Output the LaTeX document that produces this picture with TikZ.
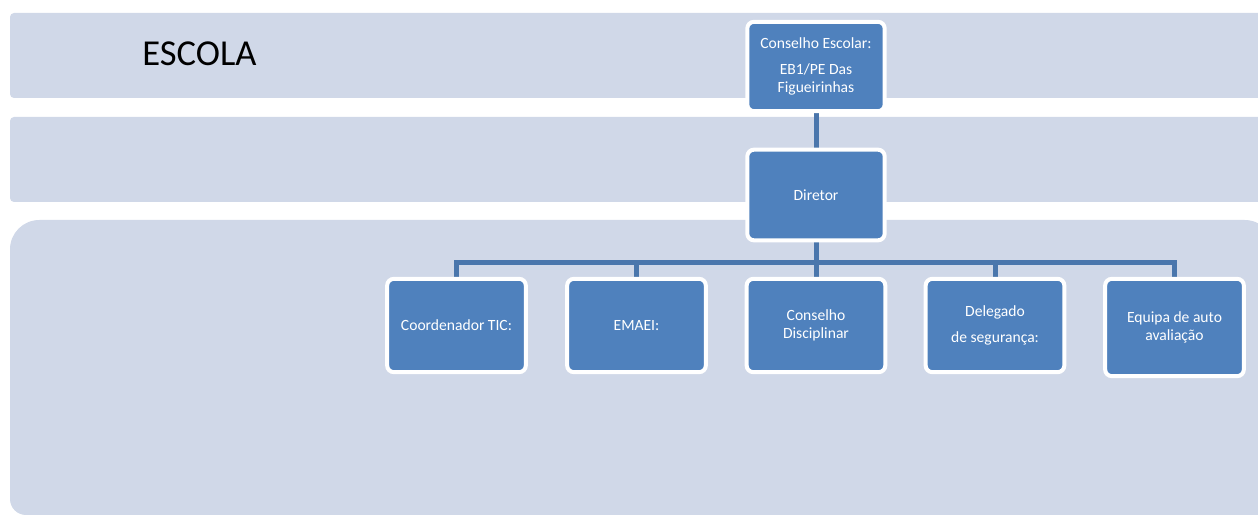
\documentclass[tikz,border=0pt]{standalone}
\usepackage{fontspec}
\setmainfont{Carlito}
\definecolor{band}{HTML}{D0D8E8}
\definecolor{boxblue}{HTML}{4F81BD}
\definecolor{conn}{HTML}{4A76AC}
\pgfdeclarelayer{back}
\pgfdeclarelayer{mid}
\pgfsetlayers{back,mid,main}
\tikzset{
  orgbox/.style={rectangle, rounded corners=5pt, fill=boxblue, draw=white,
    line width=3pt, text=white, align=center, inner sep=2pt,
    minimum width=104pt, minimum height=70pt,
    font=\fontsize{11.7}{13.4}\selectfont},
  conline/.style={draw=conn, line width=3.75pt}
}
\begin{document}
\begin{tikzpicture}[x=0.75pt,y=-0.75pt]
\useasboundingbox (0,0) rectangle (1258,516);
\clip (0,0) rectangle (1258,516);
\begin{pgfonlayer}{back}
\fill[band, rounded corners=3pt] (10,13) rectangle (1280,98);
\fill[band, rounded corners=3pt] (10,117) rectangle (1280,202);
\fill[band, rounded corners=22pt] (10,400) -- (10,220) -- (1274,220) [rounded corners=12pt] -- (1274,515) -- (10,515) -- cycle;
\end{pgfonlayer}
\node[anchor=base, font=\fontsize{27.4}{32}\selectfont] (escola) at (199.5,66) {ESCOLA};
\node[orgbox, minimum width=103pt, minimum height=67pt] (ce) at (816,66.5) {Conselho Escolar:\\[6pt]EB1/PE Das\\Figueirinhas};
\node[orgbox, minimum width=103pt, minimum height=68pt] (dir) at (816,195) {Diretor};
\node[orgbox] (b1) at (456.5,325.5) {Coordenador TIC:};
\node[orgbox] (b2) at (636.5,325.5) {EMAEI:};
\node[orgbox] (b3) at (816,325.5) {Conselho\\Disciplinar};
\node[orgbox] (b4) at (995,325.5) {Delegado\\[6pt]de segurança:};
\node[orgbox, minimum height=73pt] (b5) at (1174.5,327.5) {Equipa de auto\\avaliação};
\coordinate (bar) at (816,263);
\begin{pgfonlayer}{mid}
\draw[conline] (ce.south) -- (dir.north);
\draw[conline] (dir.south) -- (bar);
\foreach \b in {b1,b2,b3,b4,b5} \draw[conline] (\b.north) |- (bar);
\end{pgfonlayer}
\end{tikzpicture}
\end{document}
